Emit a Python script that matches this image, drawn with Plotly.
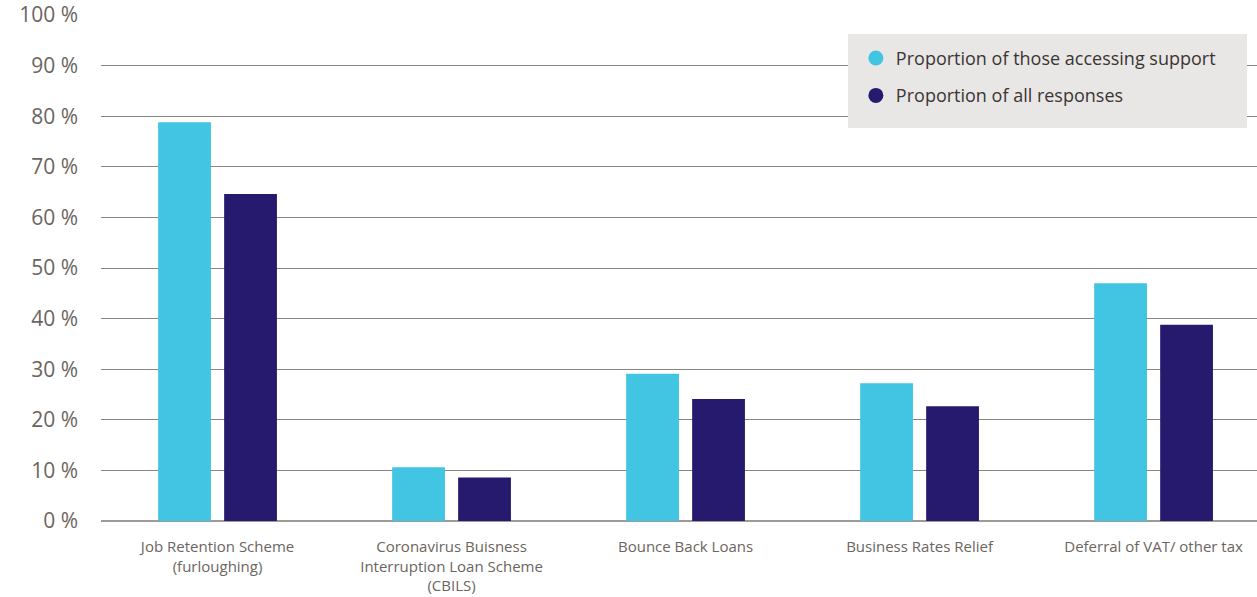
import plotly.graph_objects as go

categories = [
    "Job Retention Scheme<br>(furloughing)",
    "Coronavirus Buisness<br>Interruption Loan Scheme<br>(CBILS)",
    "Bounce Back Loans",
    "Business Rates Relief",
    "Deferral of VAT/ other tax",
]
accessing = [78.8, 10.6, 29.1, 27.2, 47.0]
all_responses = [64.6, 8.6, 24.1, 22.7, 38.8]
series_names = ["Proportion of those accessing support", "Proportion of all responses"]
y_ticks = [0, 10, 20, 30, 40, 50, 60, 70, 80, 90, 100]
y_tick_labels = ["0 %", "10 %", "20 %", "30 %", "40 %", "50 %", "60 %", "70 %", "80 %", "90 %", "100 %"]

LIGHT = "#41C5E3"
DARK = "#261A6E"
GRID = "#8a837e"
TEXT = "#6b6560"
FONT = "Open Sans, Lato, sans-serif"

fig = go.Figure()
fig.add_trace(go.Bar(x=categories, y=accessing, name=series_names[0],
                     marker=dict(color=LIGHT, line=dict(width=0)), showlegend=False))
fig.add_trace(go.Bar(x=categories, y=all_responses, name=series_names[1],
                     marker=dict(color=DARK, line=dict(width=0)), showlegend=False))
# legend entries with round markers
fig.add_trace(go.Scatter(x=[None], y=[None], mode="markers", name=series_names[0],
                         marker=dict(color=LIGHT, size=15, symbol="circle"),
                         legendgroup="a"))
fig.add_trace(go.Scatter(x=[None], y=[None], mode="markers", name=series_names[1],
                         marker=dict(color=DARK, size=15, symbol="circle"),
                         legendgroup="b"))

fig.update_layout(
    width=1257, height=597,
    margin=dict(l=101, r=0, t=15, b=76),
    paper_bgcolor="white", plot_bgcolor="white",
    barmode="group", bargap=0.436, bargroupgap=0.2,
    font=dict(family=FONT, color=TEXT),
    showlegend=True,
    legend=dict(x=0.653, y=0.951, xanchor="left", yanchor="top",
                bgcolor="rgba(0,0,0,0)", borderwidth=0,
                font=dict(size=18, color="#3a3532", family=FONT),
                tracegroupgap=11, traceorder="grouped"),
    shapes=[dict(type="rect", xref="paper", yref="paper",
                 x0=(848 - 101) / 1156, x1=(1247 - 101) / 1156,
                 y0=(521 - 128) / 506, y1=(521 - 34) / 506,
                 fillcolor="#e9e7e6", line=dict(width=0), layer="above")],
)
fig.update_xaxes(type="category", range=[-0.498, 4.442], showgrid=False,
                 showline=False, ticks="", tickfont=dict(size=15, color=TEXT, family=FONT),
                 ticklabelstandoff=15)
fig.update_yaxes(range=[0, 100], tickvals=y_ticks, ticktext=y_tick_labels,
                 showgrid=True, gridcolor=GRID, gridwidth=1,
                 zeroline=True, zerolinecolor="#a09a96", zerolinewidth=2,
                 showline=False, ticks="", tickfont=dict(size=21, color=TEXT, family=FONT),
                 ticklabelstandoff=22)

fig.write_html("out.html")
